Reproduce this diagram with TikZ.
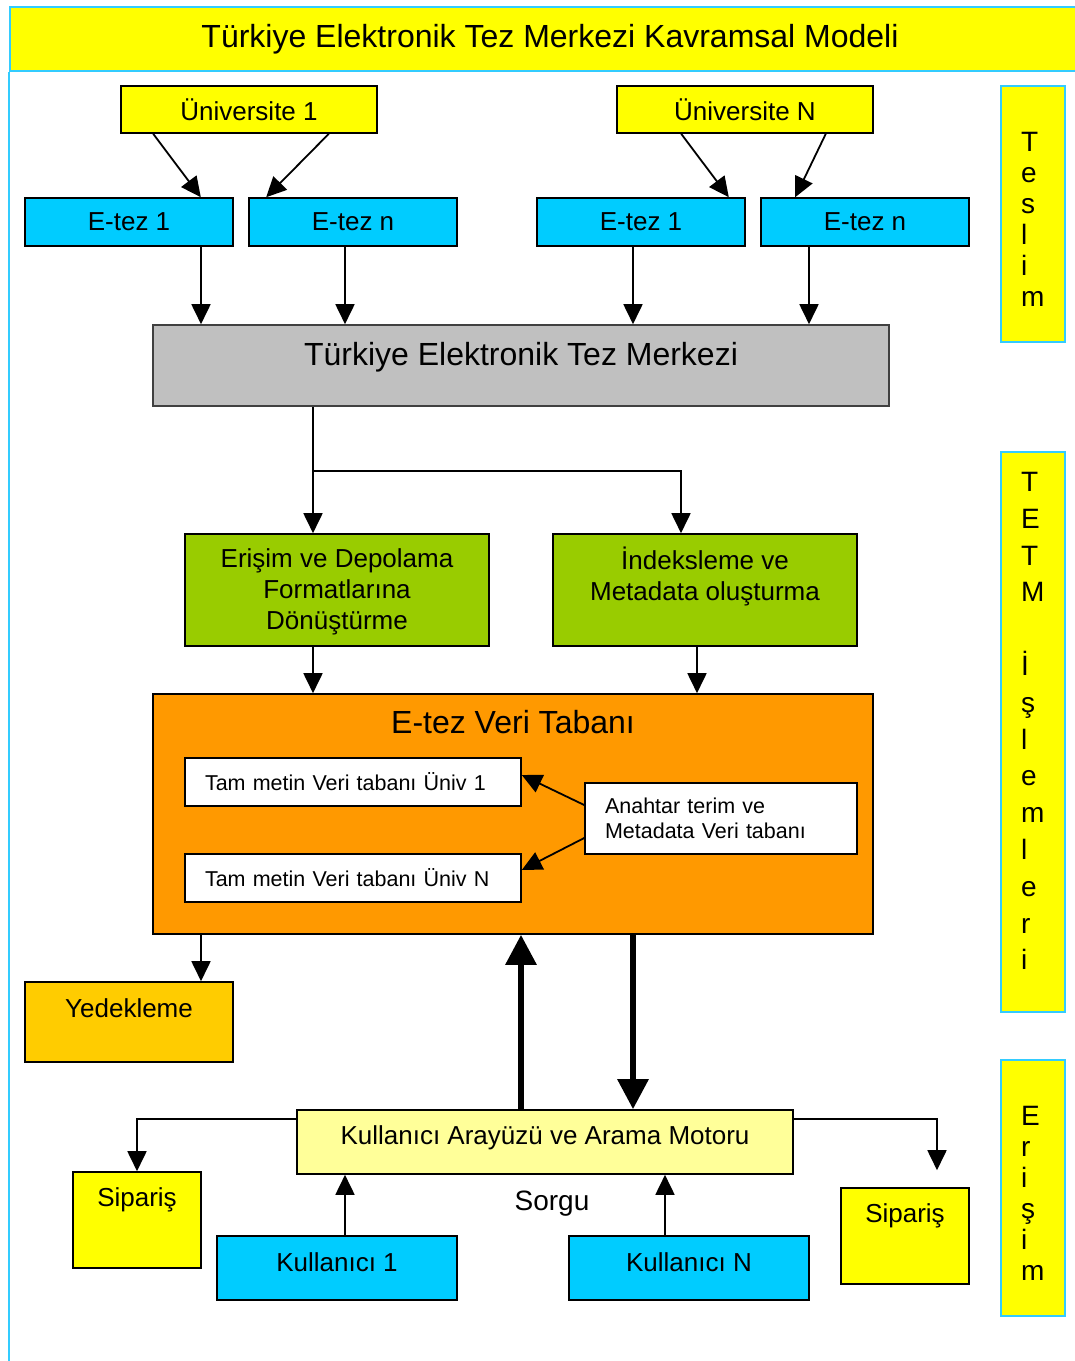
\documentclass[tikz,border=0pt]{standalone}
\usepackage{fontspec}
\setmainfont{Liberation Sans}
\usetikzlibrary{
  arrows.meta,
  calc,
  positioning}

\definecolor{tezYellow}{HTML}{FFFF00}
\definecolor{tezCyan}{HTML}{00CCFF}
\definecolor{frameCyan}{HTML}{33CCFF}
\definecolor{tezGray}{HTML}{C0C0C0}
\definecolor{tezGreen}{HTML}{99CC00}
\definecolor{tezOrange}{HTML}{FF9900}
\definecolor{tezGold}{HTML}{FFCC00}
\definecolor{tezPale}{HTML}{FFFF99}

\newcommand\fbig{\fontsize{32}{38}\selectfont}
\newcommand\fmid{\fontsize{26}{31}\selectfont}
\newcommand\fsmall{\fontsize{21.5}{25}\selectfont}

\tikzset{
  module/.style={%
    draw=black, line width=1.6pt,
    inner sep=0pt,
    align=center,
    font=\fmid
  },
  etez/.style={%
    module, fill=tezCyan,
    minimum width=208pt, minimum height=48pt
  },
  dbpart/.style={%
    module, fill=white,
    font=\fsmall, align=left,
    inner xsep=20pt
  },
  side/.style={%
    draw=frameCyan, fill=tezYellow, line width=2pt,
    inner sep=0pt, minimum width=64pt
  },
  % letters stacked down the side boxes, left aligned
  sidetext/.style={%
    align=left, text width=24pt,
    font=\fontsize{28}{31}\selectfont
  },
  arrowR/.style={%
    -{Triangle[length=20pt,width=19pt]}, line width=1.8pt
  },
  arrowW/.style={%
    -{Triangle[length=30pt,width=30pt]}, line width=6pt
  }%
}

\begin{document}
\begin{tikzpicture}[x=1pt, y=-1pt]
\useasboundingbox (0,0) rectangle (1075,1361);

% Title bar and the frame line on the left
\node[draw=frameCyan, fill=tezYellow, line width=2pt, minimum width=1080pt,
  minimum height=64pt, anchor=north west, font=\fbig] (title) at (9,6)
  {Türkiye Elektronik Tez Merkezi Kavramsal Modeli};
\draw[frameCyan, line width=2pt] (title.south west) -- (9,1361);

% Teslim: universities and their theses
\node[module, fill=tezYellow, minimum width=256pt, minimum height=47pt] (univA) at (249,109.5) {Üniversite 1};
\node[module, fill=tezYellow, minimum width=256pt, minimum height=47pt] (univN) at (745,109.5) {Üniversite N};
\node[etez] (etezA1) at (129,222) {E-tez 1};
\node[etez] (etezAn) at (353,222) {E-tez n};
\node[etez] (etezN1) at (641,222) {E-tez 1};
\node[etez] (etezNn) at (865,222) {E-tez n};

\draw[arrowR] ([xshift=33pt]univA.south west) -- ([xshift=-33pt]etezA1.north east);
\draw[arrowR] ([xshift=-49pt]univA.south east) -- ([xshift=18pt]etezAn.north west);
\draw[arrowR] ([xshift=65pt]univN.south west) -- ([xshift=-17pt]etezN1.north east);
\draw[arrowR] ([xshift=-48pt]univN.south east) -- ([xshift=35pt]etezNn.north west);

% The centre itself
\node[module, draw=black!75, fill=tezGray, minimum width=736pt, minimum height=81pt,
  label={[font=\fbig, yshift=8pt]center:Türkiye Elektronik Tez Merkezi}] (tetm) at (521,365.5) {};

\draw[arrowR] ([xshift=72pt]etezA1.south) -- ([xshift=72pt]etezA1.south |- tetm.north);
\draw[arrowR] ([xshift=-8pt]etezAn.south) -- ([xshift=-8pt]etezAn.south |- tetm.north);
\draw[arrowR] ([xshift=-8pt]etezN1.south) -- ([xshift=-8pt]etezN1.south |- tetm.north);
\draw[arrowR] ([xshift=-56pt]etezNn.south) -- ([xshift=-56pt]etezNn.south |- tetm.north);

% TETM processing
\node[module, fill=tezGreen, minimum width=304pt, minimum height=112pt,
  label={[font=\fmid, align=center, yshift=-2pt]center:Erişim ve Depolama\\Formatlarına\\Dönüştürme}] (donus) at (337,590) {};
\node[module, fill=tezGreen, minimum width=304pt, minimum height=112pt,
  label={[font=\fmid, align=center, yshift=14pt]center:İndeksleme ve\\Metadata oluşturma}] (indeks) at (705,590) {};

\coordinate (split) at ($(tetm.south)+(-208,64)$);
\draw[arrowR] ([xshift=-208pt]tetm.south) -- ([xshift=-24pt]donus.north);
\draw[arrowR] (split) -| ([xshift=-24pt]indeks.north);

% Database with its parts
\node[module, fill=tezOrange, minimum width=720pt, minimum height=240pt,
  label={[font=\fbig, yshift=92pt]center:E-tez Veri Tabanı}] (vt) at (513,814) {};
\node[dbpart, text width=296pt, minimum height=48pt] (tamA) at (353,782) {Tam metin Veri tabanı Üniv 1};
\node[dbpart, text width=296pt, minimum height=48pt] (tamN) at (353,878) {Tam metin Veri tabanı Üniv N};
\node[dbpart, text width=232pt, minimum height=71pt] (anahtar) at (721,818.5) {Anahtar terim ve\\Metadata Veri tabanı};

\draw[arrowR] ([xshift=-24pt]donus.south) -- ([xshift=-24pt]donus.south |- vt.north);
\draw[arrowR] ([xshift=-8pt]indeks.south) -- ([xshift=-8pt]indeks.south |- vt.north);
\draw[arrowR] ([yshift=13.5pt]anahtar.west) -- ([yshift=7pt]tamA.east);
\draw[arrowR] ([yshift=-19.5pt]anahtar.west) -- ([yshift=8pt]tamN.east);

% Backup
\node[module, fill=tezGold, minimum width=208pt, minimum height=80pt,
  label={[font=\fmid, yshift=14pt]center:Yedekleme}] (yedek) at (129,1022) {};
\draw[arrowR] ([xshift=72pt]yedek.north |- vt.south) -- ([xshift=72pt]yedek.north);

% Access: interface, users and orders
\node[module, fill=tezPale, minimum width=496pt, minimum height=64pt,
  label={[font=\fmid, yshift=4pt]center:Kullanıcı Arayüzü ve Arama Motoru}] (arayuz) at (545,1142) {};
\node[module, fill=tezYellow, minimum width=128pt, minimum height=96pt,
  label={[font=\fmid, yshift=20pt]center:Sipariş}] (siparisL) at (137,1220) {};
\node[module, fill=tezYellow, minimum width=128pt, minimum height=96pt,
  label={[font=\fmid, yshift=20pt]center:Sipariş}] (siparisR) at (905,1236) {};
\node[module, fill=tezCyan, minimum width=240pt, minimum height=64pt,
  label={[font=\fmid, yshift=6pt]center:Kullanıcı 1}] (kulA) at (337,1268) {};
\node[module, fill=tezCyan, minimum width=240pt, minimum height=64pt,
  label={[font=\fmid, yshift=6pt]center:Kullanıcı N}] (kulN) at (689,1268) {};
\node[font=\fontsize{28}{34}\selectfont] (sorgu) at (552,1204) {Sorgu};

\draw[arrowW] ([xshift=-24pt]arayuz.north) -- ([xshift=8pt]vt.south);
\draw[arrowW] ([xshift=120pt]vt.south) -- ([xshift=88pt]arayuz.north);
\draw[arrowR] ([yshift=23pt]arayuz.west) -| (siparisL.north);
\draw[arrowR] ([yshift=23pt]arayuz.east) -| ([xshift=32pt,yshift=17pt]siparisR.north);
\draw[arrowR] ([xshift=8pt]kulA.north) -- ([xshift=8pt]kulA.north |- arayuz.south);
\draw[arrowR] ([xshift=-24pt]kulN.north) -- ([xshift=-24pt]kulN.north |- arayuz.south);

% Phase labels on the right
\node[side, minimum height=256pt,
  label={[sidetext, yshift=-5pt]center:T\\e\\s\\l\\i\\m}] (teslim) at (1033,214) {};
\node[side, minimum height=560pt,
  label={[sidetext, font=\fontsize{28}{36.8}\selectfont, yshift=11pt]center:T\\E\\T\\M\\[36.8pt]İ\\ş\\l\\e\\m\\l\\e\\r\\i}] (islem) at (1033,732) {};
\node[side, minimum height=256pt,
  label={[sidetext, yshift=-5pt]center:E\\r\\i\\ş\\i\\m}] (erisim) at (1033,1188) {};

\end{tikzpicture}
\end{document}
